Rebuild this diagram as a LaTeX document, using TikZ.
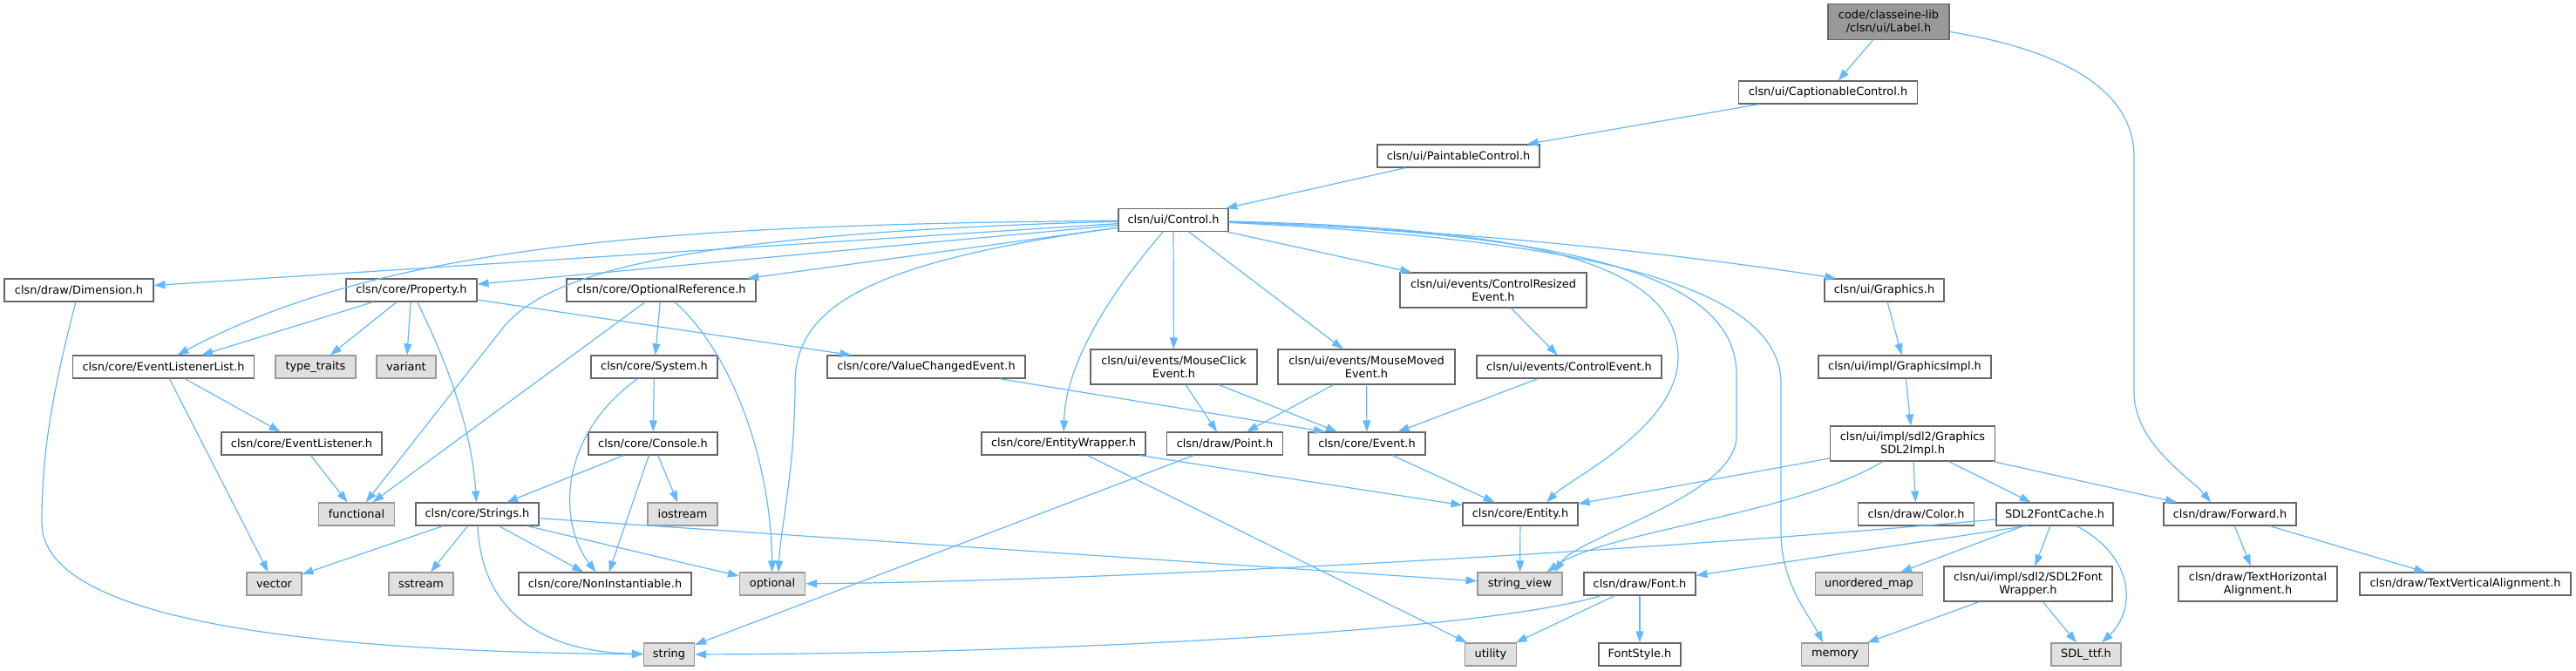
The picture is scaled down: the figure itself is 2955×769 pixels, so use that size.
\documentclass[tikz,border=0pt]{standalone}
\usepackage{fontspec}
\setmainfont{DejaVu Sans}
\usetikzlibrary{arrows.meta}

\definecolor{edgeblue}{HTML}{63B8FF}
\definecolor{boxline}{HTML}{666666}
\definecolor{sysfill}{HTML}{E0E0E0}
\definecolor{sysline}{HTML}{999999}
\definecolor{rootfill}{HTML}{999999}

\begin{document}
\begin{tikzpicture}[x=1pt, y=-1pt, >={Triangle[length=13pt,width=9pt]},
    every node/.style={font={\fontsize{12.9}{15}\selectfont}, inner sep=0pt, minimum height=26pt, align=center},
    hdr/.style={draw=boxline, fill=white, line width=1.1pt},
    sys/.style={draw=sysline, fill=sysfill, line width=1.1pt},
    root/.style={draw=boxline, fill=rootfill, line width=1.1pt, minimum height=41pt},
    two/.style={minimum height=40pt},
    dep/.style={->, draw=edgeblue, line width=1.2pt}]
    \useasboundingbox (0,0) rectangle (2955,769);

    % top chain
    \node[root, minimum width=139] (label) at (2166.5,25) {code/classeine-lib\\/clsn/ui/Label.h};
    \node[hdr, minimum width=205] (caption) at (2097,106) {clsn/ui/CaptionableControl.h};
    \node[hdr, minimum width=186] (paint) at (1673,179) {clsn/ui/PaintableControl.h};
    \node[hdr, minimum width=126] (control) at (1346,252.5) {clsn/ui/Control.h};

    % row 1
    \node[hdr, minimum width=171] (dimension) at (90.5,333) {clsn/draw/Dimension.h};
    \node[hdr, minimum width=150] (property) at (472,333) {clsn/core/Property.h};
    \node[hdr, minimum width=217] (optref) at (758.5,333) {clsn/core/OptionalReference.h};
    \node[hdr, two, minimum width=214] (resized) at (1713,333) {clsn/ui/events/ControlResized\\Event.h};
    \node[hdr, minimum width=137] (graphics) at (2161.5,333) {clsn/ui/Graphics.h};

    % row 2
    \node[hdr, minimum width=208] (evlist) at (187.5,421) {clsn/core/EventListenerList.h};
    \node[sys, minimum width=92] (typetraits) at (362,421) {type\_traits};
    \node[sys, minimum width=68] (variant) at (466,421) {variant};
    \node[hdr, minimum width=145] (system) at (750.5,421) {clsn/core/System.h};
    \node[hdr, minimum width=227] (valuechg) at (1062.5,421) {clsn/core/ValueChangedEvent.h};
    \node[hdr, two, minimum width=191] (mouseclick) at (1346.5,421) {clsn/ui/events/MouseClick\\Event.h};
    \node[hdr, two, minimum width=203] (mousemoved) at (1567.5,421) {clsn/ui/events/MouseMoved\\Event.h};
    \node[hdr, minimum width=212] (ctrlevent) at (1800,421) {clsn/ui/events/ControlEvent.h};
    \node[hdr, minimum width=198] (gimpl) at (2185,421) {clsn/ui/impl/GraphicsImpl.h};

    % row 3
    \node[hdr, minimum width=184] (evlistener) at (346,509) {clsn/core/EventListener.h};
    \node[hdr, minimum width=148] (console) at (749,509) {clsn/core/Console.h};
    \node[hdr, minimum width=188] (entwrap) at (1220,509) {clsn/core/EntityWrapper.h};
    \node[hdr, minimum width=133] (point) at (1405,509) {clsn/draw/Point.h};
    \node[hdr, minimum width=134] (event) at (1568,509) {clsn/core/Event.h};
    \node[hdr, two, minimum width=189] (sdlimpl) at (2194,509) {clsn/ui/impl/sdl2/Graphics\\SDL2Impl.h};

    % row 4
    \node[sys, minimum width=87] (functional) at (409,590) {functional};
    \node[hdr, minimum width=141] (strings) at (547.5,590) {clsn/core/Strings.h};
    \node[sys, minimum width=80] (iostream) at (783,590) {iostream};
    \node[hdr, minimum width=132] (entity) at (1744,590) {clsn/core/Entity.h};
    \node[hdr, minimum width=133] (color) at (2198,590) {clsn/draw/Color.h};
    \node[hdr, minimum width=134] (fontcache) at (2357,590) {SDL2FontCache.h};
    \node[hdr, minimum width=152] (forward) at (2558,590) {clsn/draw/Forward.h};

    % row 5
    \node[sys, minimum width=63] (vector) at (314.5,670) {vector};
    \node[sys, minimum width=74] (sstream) at (483,670) {sstream};
    \node[hdr, minimum width=198] (noninst) at (694,670) {clsn/core/NonInstantiable.h};
    \node[sys, minimum width=75] (optional) at (886,670) {optional};
    \node[sys, minimum width=97] (stringview) at (1743.5,670) {string\_view};
    \node[hdr, minimum width=128] (font) at (1881,670) {clsn/draw/Font.h};
    \node[sys, minimum width=123] (umap) at (2144,670) {unordered\_map};
    \node[hdr, two, minimum width=193] (fontwrap) at (2326.5,670) {clsn/ui/impl/sdl2/SDL2Font\\Wrapper.h};
    \node[hdr, two, minimum width=182] (thalign) at (2590,670) {clsn/draw/TextHorizontal\\Alignment.h};
    \node[hdr, minimum width=242] (tvalign) at (2828,670) {clsn/draw/TextVerticalAlignment.h};

    % row 6
    \node[sys, minimum width=58] (string) at (767.5,751) {string};
    \node[sys, minimum width=59] (utility) at (1710,751) {utility};
    \node[hdr, minimum width=94] (fontstyle) at (1881,751) {FontStyle.h};
    \node[sys, minimum width=77] (memory) at (2105,751) {memory};
    \node[sys, minimum width=80] (sdlttf) at (2393,751) {SDL\_ttf.h};

    % Label.h
    \draw[dep] (label) -- (caption);
    \draw[dep] (label) .. controls (2380,60) and (2448,110) .. (2448,180) -- (2448,450) .. controls (2448,510) and (2515,550) .. ([xshift=-22]forward.north);
    \draw[dep] (caption) -- (paint);
    \draw[dep] (paint) -- (control);

    % Control.h
    \draw[dep] (control) -- (dimension);
    \draw[dep] (control) .. controls (800,258) and (450,275) .. ([xshift=16]evlist.north);
    \draw[dep] (control) -- (property);
    \draw[dep] (control) .. controls (760,268) and (620,318) .. (574,380) -- (functional);
    \draw[dep] (control) -- (optref);
    \draw[dep] (control) .. controls (1000,300) and (912,350) .. (912,440) .. controls (912,540) and (896,600) .. ([xshift=7]optional.north);
    \draw[dep] (control) .. controls (1270,340) and (1222,420) .. (entwrap);
    \draw[dep] (control) -- (mouseclick);
    \draw[dep] (control) -- (mousemoved);
    \draw[dep] (control) -- (resized);
    \draw[dep] (control) .. controls (1750,262) and (1925,300) .. (1925,410) .. controls (1925,490) and (1800,550) .. ([xshift=30]entity.north);
    \draw[dep] (control) .. controls (1820,268) and (1992,320) .. (1992,430) -- (1992,500) .. controls (1992,570) and (1810,615) .. ([xshift=40]stringview.north);
    \draw[dep] (control) .. controls (1830,275) and (2043,330) .. (2043,440) -- (2043,610) .. controls (2043,670) and (2075,705) .. ([xshift=-14]memory.north);
    \draw[dep] (control) .. controls (1700,265) and (1950,295) .. ([xshift=-55]graphics.north);

    % Property.h, OptionalReference.h
    \draw[dep] (property) -- (evlist);
    \draw[dep] (property) -- (typetraits);
    \draw[dep] (property) -- (variant);
    \draw[dep] (property) .. controls (505,400) and (540,480) .. (strings);
    \draw[dep] (property) -- ([xshift=-86]valuechg.north);
    \draw[dep] (optref) -- (system);
    \draw[dep] (optref) -- (functional);
    \draw[dep] (optref) .. controls (835,400) and (884,520) .. (optional);

    % System.h, Console.h
    \draw[dep] (system) -- (console);
    \draw[dep] (system) .. controls (640,500) and (640,600) .. (noninst);
    \draw[dep] (console) -- (strings);
    \draw[dep] (console) -- (noninst);
    \draw[dep] (console) -- (iostream);

    % listeners
    \draw[dep] (evlist) -- (evlistener);
    \draw[dep] (evlist) -- (vector);
    \draw[dep] (evlistener) -- (functional);

    % Strings.h
    \draw[dep] (strings) -- (vector);
    \draw[dep] (strings) -- (sstream);
    \draw[dep] (strings) -- (noninst);
    \draw[dep] (strings) -- (optional);
    \draw[dep] (strings) .. controls (552,700) and (620,748) .. (string);
    \draw[dep] (strings) -- (stringview);
    \draw[dep] (dimension) .. controls (60,450) and (48,520) .. (48,600) .. controls (48,720) and (400,748) .. (string);

    % events
    \draw[dep] (valuechg) -- ([xshift=-48]event.north);
    \draw[dep] (mouseclick) -- (point);
    \draw[dep] (mouseclick) -- (event);
    \draw[dep] (mousemoved) -- (point);
    \draw[dep] (mousemoved) -- (event);
    \draw[dep] (ctrlevent) -- (event);
    \draw[dep] (resized) -- (ctrlevent);
    \draw[dep] (entwrap) -- (entity);
    \draw[dep] (entwrap) -- (utility);
    \draw[dep] (point) -- (string);
    \draw[dep] (event) -- (entity);
    \draw[dep] (entity) -- (stringview);

    % Font.h
    \draw[dep] (font) .. controls (1700,725) and (1200,750) .. (string);
    \draw[dep] (font) -- (utility);
    \draw[dep] (font) -- (fontstyle);

    % graphics chain
    \draw[dep] (graphics) -- (gimpl);
    \draw[dep] (gimpl) -- (sdlimpl);
    \draw[dep] (sdlimpl) -- (entity);
    \draw[dep] (sdlimpl) .. controls (2060,590) and (1840,610) .. ([xshift=31]stringview.north);
    \draw[dep] (sdlimpl) -- (color);
    \draw[dep] (sdlimpl) -- (fontcache);
    \draw[dep] (sdlimpl) -- (forward);
    \draw[dep] (fontcache) .. controls (1800,640) and (1200,668) .. (optional);
    \draw[dep] ([xshift=-32]fontcache.south) -- (font);
    \draw[dep] (fontcache) -- (umap);
    \draw[dep] (fontcache) -- (fontwrap);
    \draw[dep] (fontcache) .. controls (2450,640) and (2450,700) .. ([xshift=18]sdlttf.north);
    \draw[dep] (fontwrap) -- (memory);
    \draw[dep] (fontwrap) -- (sdlttf);
    \draw[dep] (forward) -- (thalign);
    \draw[dep] (forward) -- (tvalign);
\end{tikzpicture}
\end{document}
